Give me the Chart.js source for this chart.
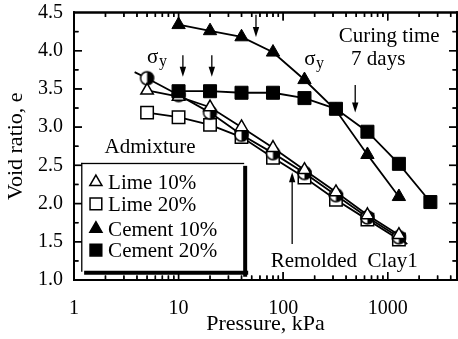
<!DOCTYPE html>
<html><head><meta charset="utf-8">
<script src="https://cdn.jsdelivr.net/npm/chart.js@4/dist/chart.umd.min.js"></script>
<style>
html,body{margin:0;padding:0;background:#fff}
#wrap{position:relative;width:458px;height:339px}
#c{display:block;background:#fff}
#o{position:absolute;left:0;top:0;pointer-events:none}
</style>
</head><body>
<div id="wrap">
<canvas id="c" width="458" height="339"></canvas>
<canvas id="o" width="458" height="339"></canvas>
</div>
<script>
// ---- data ----
const pressures = [5, 10, 20, 40, 80, 160, 320, 640, 1280];
const lime10 = [3.48, 3.40, 3.26, 3.00, 2.73, 2.44, 2.15, 1.85, 1.59];
const lime20 = [3.19, 3.13, 3.03, 2.87, 2.60, 2.34, 2.05, 1.79, 1.53];
const remolded = [3.64, 3.42, 3.19, 2.90, 2.66, 2.40, 2.11, 1.82, 1.56];
const remoldedEndP = [3.8, 1540];
const remoldedEndE = [3.72, 1.47];
const cementP10 = [10, 20, 40, 80, 160, 320, 640, 1280];
const cement10 = [4.34, 4.26, 4.18, 3.98, 3.62, 3.22, 2.64, 2.09];
const cementP20 = [10, 20, 40, 80, 160, 320, 640, 1280, 2560];
const cement20 = [3.47, 3.47, 3.45, 3.45, 3.38, 3.24, 2.94, 2.52, 2.02];
const xTickValues = [1, 10, 100, 1000];
const xTickLabels = ['1', '10', '100', '1000'];
const yTickValues = [1.0, 1.5, 2.0, 2.5, 3.0, 3.5, 4.0, 4.5];
const yTickLabels = ['1.0', '1.5', '2.0', '2.5', '3.0', '3.5', '4.0', '4.5'];
const legendNames = ['Lime 10%', 'Lime 20%', 'Cement 10%', 'Cement 20%'];

const FAMILY = "'Liberation Serif', 'Times New Roman', serif";
Chart.defaults.font.family = FAMILY;
Chart.defaults.color = '#000';

function halfCircle(r) {
  const s = Math.ceil(2 * r + 4);
  const c = document.createElement('canvas');
  c.width = s; c.height = s;
  const g = c.getContext('2d');
  const cx = s / 2;
  g.beginPath(); g.arc(cx, cx, r, 0, 2 * Math.PI); g.fillStyle = '#fff'; g.fill();
  g.beginPath(); g.moveTo(cx, cx); g.arc(cx, cx, r, -Math.PI / 2, Math.PI / 2); g.closePath();
  g.fillStyle = '#000'; g.fill();
  g.beginPath(); g.arc(cx, cx, r, 0, 2 * Math.PI); g.lineWidth = 1.5; g.strokeStyle = '#000'; g.stroke();
  return c;
}
const circleImg = halfCircle(6.5);

const pts = (xs, ys) => ys.map((v, i) => ({ x: xs[i], y: v }));
const remoldedData = [{ x: remoldedEndP[0], y: remoldedEndE[0] }]
  .concat(pts(pressures, remolded))
  .concat([{ x: remoldedEndP[1], y: remoldedEndE[1] }]);
const remoldedRadius = remoldedData.map((d, i) => (i === 0 || i === remoldedData.length - 1) ? 0 : 7);

function marker(ctx, type, filled, x, y, r) {
  ctx.beginPath();
  if (type === 'triangle') {
    for (let k = 0; k < 3; k++) {
      const an = k * 2 * Math.PI / 3;
      const px = x + Math.sin(an) * r, py = y - Math.cos(an) * r;
      if (k === 0) ctx.moveTo(px, py); else ctx.lineTo(px, py);
    }
    ctx.closePath();
  } else {
    const s = Math.SQRT1_2 * r;
    ctx.rect(x - s, y - s, 2 * s, 2 * s);
  }
  ctx.fillStyle = filled ? '#000' : '#fff';
  ctx.fill();
  ctx.lineWidth = 1.5; ctx.strokeStyle = '#000';
  ctx.stroke();
}

function arrow(ctx, x, y1, y2) {
  const dir = y2 > y1 ? 1 : -1;
  ctx.beginPath(); ctx.moveTo(x, y1); ctx.lineTo(x, y2 - dir * 8);
  ctx.lineWidth = 1.3; ctx.strokeStyle = '#000'; ctx.stroke();
  ctx.beginPath(); ctx.moveTo(x, y2); ctx.lineTo(x - 3.2, y2 - dir * 10); ctx.lineTo(x + 3.2, y2 - dir * 10); ctx.closePath();
  ctx.fillStyle = '#000'; ctx.fill();
}

function drawFrame(ctx, chart) {
  const a = chart.chartArea, sx = chart.scales.x, sy = chart.scales.y;
  ctx.fillStyle = '#000';
  sy.ticks.forEach(t => {
    const v = t.value;
    const py = sy.getPixelForValue(v);
    if (py <= a.top + 1 || py >= a.bottom - 1) return;
    const major = Math.abs(v * 2 - Math.round(v * 2)) < 1e-6;
    const L = major ? 8 : 4.5;
    ctx.fillRect(a.left, py - 0.7, L, 1.4);
    ctx.fillRect(a.right - L, py - 0.7, L, 1.4);
  });
  sx.ticks.forEach(t => {
    const v = t.value;
    const e = Math.floor(Math.log10(v) + 1e-9);
    const sig = v / Math.pow(10, e);
    if (Math.abs(sig - Math.round(sig)) > 1e-6) return;
    const px = sx.getPixelForValue(v);
    if (px <= a.left + 1 || px >= a.right - 1) return;
    const L = Math.round(sig) === 1 ? 8 : 4.5;
    ctx.fillRect(px - 0.7, a.bottom - L, 1.4, L);
    ctx.fillRect(px - 0.7, a.top, 1.4, L);
  });
  ctx.fillRect(a.left - 1, a.top - 1, a.right - a.left + 2, 2);
  ctx.fillRect(a.left - 1, a.bottom - 1, a.right - a.left + 2, 2);
  ctx.fillRect(a.left - 1, a.top - 1, 2, a.bottom - a.top + 2);
  ctx.fillRect(a.right - 1, a.top - 1, 2, a.bottom - a.top + 2);
}

const decor = {
  id: 'decor',
  afterDraw(chart) {
    const { ctx, scales } = chart;
    const sx = scales.x, sy = scales.y;
    const X = v => sx.getPixelForValue(v), Y = v => sy.getPixelForValue(v);
    ctx.save();
    arrow(ctx, X(11), Y(3.94), Y(3.66));
    arrow(ctx, X(20.8), Y(3.94), Y(3.66));
    arrow(ctx, X(55), Y(4.47), Y(4.18));
    arrow(ctx, X(489), Y(3.55), Y(3.19));
    arrow(ctx, X(122), Y(1.47), Y(2.41));
    ctx.fillStyle = '#000';
    ctx.textBaseline = 'alphabetic';
    ctx.font = '21px ' + FAMILY;
    ctx.textAlign = 'center';
    ctx.fillText('Curing time', X(1033), Y(4.11));
    ctx.fillText('7 days', X(811), Y(3.81));
    ctx.fillText('Admixture', X(5.34), Y(2.66));
    ctx.fillText('Remolded  Clay1', X(384), Y(1.17));
    ctx.textAlign = 'left';
    [[5.0, 3.84], [159, 3.81]].forEach(([p, e]) => {
      ctx.font = '21px ' + FAMILY;
      const x0 = X(p), y0 = Y(e);
      ctx.fillText('σ', x0, y0);
      const w = ctx.measureText('σ').width;
      ctx.font = '16px ' + FAMILY;
      ctx.fillText('y', x0 + w + 0.5, y0 + 3);
    });
    const bl = X(1.17), bt = Y(2.533), br = X(42.4), bb = Y(1.108);
    ctx.fillStyle = '#000';
    ctx.fillRect(bl, bt, br - bl, 1.3);
    ctx.fillRect(bl, bt, 1.3, bb - bt);
    ctx.fillRect(bl + 3, bb - 1, br - bl + 1, 4);
    ctx.fillRect(br - 1, bt + 3, 4, bb - bt + 2);
    const rowsE = [2.19, 1.905, 1.58, 1.30];
    const kinds = [['triangle', false], ['rect', false], ['triangle', true], ['rect', true]];
    rowsE.forEach((e, i) => {
      const by = Y(e);
      marker(ctx, kinds[i][0], kinds[i][1], X(1.62), by - 7, kinds[i][0] === 'triangle' ? 7 : 8.3);
      ctx.fillStyle = '#000';
      ctx.font = '21px ' + FAMILY;
      ctx.textAlign = 'left';
      ctx.fillText(legendNames[i], X(2.12), by);
    });
    ctx.save();
    drawFrame(ctx, chart);
    ctx.restore();
    ctx.restore();
  },
  afterRender(chart) {
    const o = document.getElementById('o').getContext('2d');
    o.clearRect(0, 0, 458, 339);
    o.save();
    drawFrame(o, chart);
    o.restore();
  }
};

new Chart(document.getElementById('c'), {
  type: 'line',
  data: {
    datasets: [
      { label: 'Lime 20%', data: pts(pressures, lime20), order: 5,
        borderColor: '#000', borderWidth: 1.8, pointStyle: 'rect', pointRadius: 8.8,
        pointBackgroundColor: '#fff', pointBorderColor: '#000', pointBorderWidth: 1.5 },
      { label: 'Remolded Clay1', data: remoldedData, order: 4,
        borderColor: '#000', borderWidth: 1.8, pointStyle: circleImg, pointRadius: remoldedRadius,
        pointBackgroundColor: '#fff', pointBorderColor: '#000' },
      { label: 'Lime 10%', data: pts(pressures, lime10), order: 3,
        borderColor: '#000', borderWidth: 1.8, pointStyle: 'triangle', pointRadius: 7.2,
        pointBackgroundColor: '#fff', pointBorderColor: '#000', pointBorderWidth: 1.5 },
      { label: 'Cement 10%', data: pts(cementP10, cement10), order: 2,
        borderColor: '#000', borderWidth: 1.8, pointStyle: 'triangle', pointRadius: 7.7,
        pointBackgroundColor: '#000', pointBorderColor: '#000', pointBorderWidth: 1 },
      { label: 'Cement 20%', data: pts(cementP20, cement20), order: 1,
        borderColor: '#000', borderWidth: 1.8, pointStyle: 'rect', pointRadius: 9.2,
        pointBackgroundColor: '#000', pointBorderColor: '#000', pointBorderWidth: 1 }
    ]
  },
  options: {
    responsive: false,
    animation: false,
    events: [],
    layout: { autoPadding: false, padding: { top: 12.5, right: 1, left: 0, bottom: 0 } },
    elements: { line: { tension: 0 } },
    plugins: { legend: { display: false }, tooltip: { enabled: false } },
    scales: {
      x: {
        type: 'logarithmic', min: 1, max: 4600, position: 'bottom',
        afterFit(s) { s.height = 59; s.paddingLeft = 0; s.paddingRight = 0; },
        grid: { display: false, drawTicks: true, tickLength: 17 },
        border: { display: false },
        ticks: {
          autoSkip: false, maxRotation: 0, padding: 0, color: '#000',
          font: { size: 20, family: FAMILY },
          callback(v) { const i = xTickValues.findIndex(t => Math.abs(t - v) < 1e-6); return i >= 0 ? xTickLabels[i] : ''; }
        },
        title: { display: true, text: 'Pressure, kPa', color: '#000', font: { size: 22, family: FAMILY }, padding: { top: 0, bottom: 2 } }
      },
      y: {
        min: 1, max: 4.5, position: 'left',
        afterFit(s) { s.width = 74; s.paddingTop = 0; s.paddingBottom = 0; },
        grid: { display: false, drawTicks: true, tickLength: 11 },
        border: { display: false },
        ticks: {
          stepSize: 0.25, autoSkip: false, padding: 0, color: '#000',
          font: { size: 20, family: FAMILY },
          callback(v) { const i = yTickValues.findIndex(t => Math.abs(t - v) < 1e-6); return i >= 0 ? yTickLabels[i] : ''; }
        },
        title: { display: true, text: 'Void ratio, e', color: '#000', font: { size: 22, family: FAMILY }, padding: { top: 3, bottom: 0 } }
      }
    }
  },
  plugins: [decor]
});
</script>
</body></html>
